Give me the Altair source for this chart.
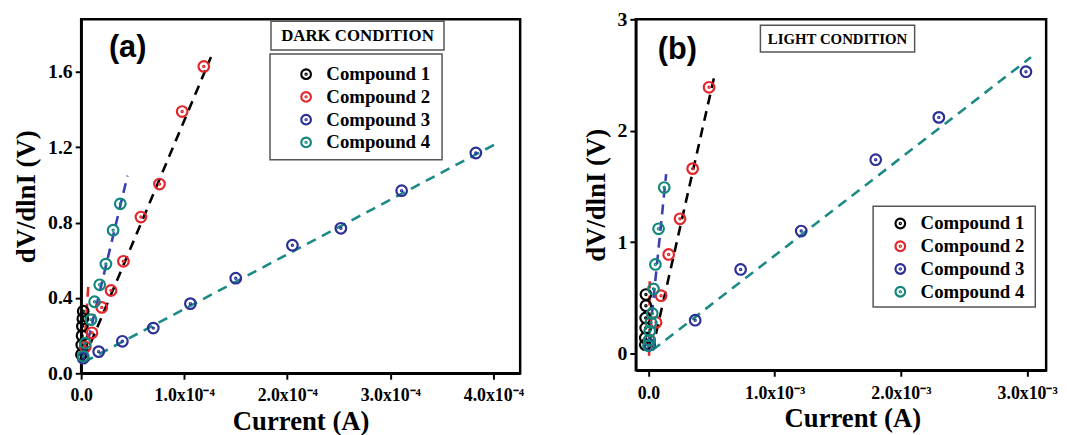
import altair as alt
import pandas as pd

compounds = ["Compound 1", "Compound 2", "Compound 3", "Compound 4"]
point_colors = ["#000000", "#e3262b", "#2b3097", "#13877d"]
line_colors = ["#e3262b", "#000000", "#1b8a86", "#3a3fb2"]

# ---------- Panel (a): dark condition ----------
a_c1_x = [0.3e-6, 0.6e-6, 0.9e-6, 1.2e-6, 1.6e-6, 2.0e-6]
a_c1_y = [0.10, 0.15, 0.20, 0.25, 0.29, 0.33]
a_c2_x = [0.4e-5, 1.05e-5, 2.0e-5, 2.9e-5, 4.1e-5, 5.8e-5, 7.6e-5, 9.8e-5, 11.9e-5]
a_c2_y = [0.14, 0.215, 0.35, 0.44, 0.595, 0.83, 1.005, 1.39, 1.63]
a_c3_x = [0.2e-5, 1.7e-5, 4.0e-5, 7.0e-5, 10.6e-5, 15.0e-5, 20.5e-5, 25.2e-5, 31.1e-5, 38.3e-5]
a_c3_y = [0.08, 0.115, 0.17, 0.24, 0.37, 0.505, 0.68, 0.77, 0.97, 1.17]
a_c4_x = [0.2e-5, 0.4e-5, 0.95e-5, 1.3e-5, 1.8e-5, 2.4e-5, 3.1e-5, 3.8e-5]
a_c4_y = [0.09, 0.16, 0.285, 0.38, 0.47, 0.58, 0.76, 0.90]
# fitted dashed lines (end points)
a_l1_x = [0.2e-5, 0.7e-5]
a_l1_y = [0.05, 0.47]
a_l2_x = [0.3e-5, 12.6e-5]
a_l2_y = [0.08, 1.68]
a_l3_x = [0.3e-5, 40.5e-5]
a_l3_y = [0.06, 1.226]
a_l4_x = [0.3e-5, 4.5e-5]
a_l4_y = [0.09, 1.05]

# ---------- Panel (b): light condition ----------
b_c1_x = [-0.025e-3, -0.025e-3, -0.022e-3, -0.022e-3, -0.02e-3, -0.02e-3]
b_c1_y = [0.08, 0.14, 0.23, 0.32, 0.43, 0.53]
b_c2_x = [0.01e-3, 0.06e-3, 0.10e-3, 0.16e-3, 0.25e-3, 0.35e-3, 0.48e-3]
b_c2_y = [0.12, 0.28, 0.52, 0.89, 1.21, 1.66, 2.39]
b_c3_x = [0.01e-3, 0.37e-3, 0.73e-3, 1.21e-3, 1.80e-3, 2.30e-3, 2.99e-3]
b_c3_y = [0.08, 0.30, 0.755, 1.10, 1.74, 2.12, 2.53]
b_c4_x = [0.0, 0.005e-3, 0.01e-3, 0.02e-3, 0.03e-3, 0.04e-3, 0.055e-3, 0.08e-3, 0.125e-3]
b_c4_y = [0.07, 0.12, 0.20, 0.28, 0.36, 0.58, 0.80, 1.12, 1.49]
b_l1_x = [0.005e-3, 0.01e-3]
b_l1_y = [-0.02, 0.65]
b_l2_x = [0.03e-3, 0.53e-3]
b_l2_y = [0.03, 2.53]
b_l3_x = [0.03e-3, 3.03e-3]
b_l3_y = [0.03, 2.66]
b_l4_x = [0.0, 0.14e-3]
b_l4_y = [0.05, 1.61]

FONT = "Liberation Serif"
CIRCLE_DOT = ("M-1,0A1,1 0 1,1 1,0A1,1 0 1,1 -1,0Z "
              "M-0.12,0A0.12,0.12 0 1,1 0.12,0A0.12,0.12 0 1,1 -0.12,0Z")


def frame(xs, ys):
    rows = []
    for name, xv, yv in zip(compounds, xs, ys):
        for x, y in zip(xv, yv):
            rows.append({"compound": name, "x": x, "y": y})
    return pd.DataFrame(rows)


def line_frame(xs, ys):
    rows = []
    for name, col, xv, yv in zip(compounds, line_colors, xs, ys):
        for x, y in zip(xv, yv):
            rows.append({"compound": name, "lcolor": col, "x": x, "y": y})
    return pd.DataFrame(rows)


def panel(pts, lines, xdom, ydom, w, h, xvals, xexpr, yvals, yfmt,
          legxy, label, labelxy, cond, cond_font, cond_box, cond_txt, leg_box,
          xtitle_x):
    xenc = alt.X("x:Q", scale=alt.Scale(domain=xdom, nice=False, zero=False),
                 axis=alt.Axis(values=xvals, labelExpr=xexpr, title="Current (A)",
                               labelFlush=False, titleX=xtitle_x))
    yenc = alt.Y("y:Q", scale=alt.Scale(domain=ydom, nice=False, zero=False),
                 axis=alt.Axis(values=yvals, format=yfmt, title="dV/dlnI (V)"))
    one = pd.DataFrame({"k": [0]})
    boxes = alt.Chart(one).mark_rect(fill="white", stroke="#555555", strokeWidth=1.5).encode(
        x=alt.value(cond_box[0]), x2=alt.value(cond_box[1]),
        y=alt.value(cond_box[2]), y2=alt.value(cond_box[3]))
    lbox = alt.Chart(one).mark_rect(fill="white", stroke="#555555", strokeWidth=1.5).encode(
        x=alt.value(leg_box[0]), x2=alt.value(leg_box[1]),
        y=alt.value(leg_box[2]), y2=alt.value(leg_box[3]))
    ctext = alt.Chart(one).mark_text(text=cond, font=FONT, fontWeight="bold",
                                     fontSize=cond_font, color="black").encode(
        x=alt.value(cond_txt[0]), y=alt.value(cond_txt[1]))
    ptext = alt.Chart(one).mark_text(text=label, font="Liberation Sans", fontWeight="bold",
                                     fontSize=31, color="black").encode(
        x=alt.value(labelxy[0]), y=alt.value(labelxy[1]))
    ln = alt.Chart(lines).mark_line(strokeDash=[10, 7], strokeWidth=2.6).encode(
        x=xenc, y=yenc, detail="compound:N",
        color=alt.Color("lcolor:N", scale=None))
    pt = alt.Chart(pts).mark_point(shape=CIRCLE_DOT, filled=False, size=115,
                                   strokeWidth=2.2, opacity=1).encode(
        x=xenc, y=yenc,
        color=alt.Color("compound:N",
                        scale=alt.Scale(domain=compounds, range=point_colors),
                        legend=alt.Legend(orient="none", legendX=legxy[0], legendY=legxy[1],
                                          title=None, symbolType=CIRCLE_DOT, symbolSize=95,
                                          symbolStrokeWidth=2.2, labelFont=FONT,
                                          labelFontSize=19, labelFontWeight="bold",
                                          labelColor="black", labelOffset=11,
                                          rowPadding=3, padding=0)))
    return alt.layer(boxes, lbox, ctext, ptext, ln, pt).properties(
        width=w, height=h).resolve_scale(color="independent")


sup4 = "x10\u207b\u2074"
sup3 = "x10\u207b\u00b3"

pa = panel(frame([a_c1_x, a_c2_x, a_c3_x, a_c4_x], [a_c1_y, a_c2_y, a_c3_y, a_c4_y]),
           line_frame([a_l1_x, a_l2_x, a_l3_x, a_l4_x], [a_l1_y, a_l2_y, a_l3_y, a_l4_y]),
           [0, 4.26e-4], [0, 1.88], 444, 358,
           [0, 1e-4, 2e-4, 3e-4, 4e-4],
           "datum.value == 0 ? '0.0' : format(datum.value*1e4, '.1f') + '" + sup4 + "'",
           [0, 0.4, 0.8, 1.2, 1.6], ".1f",
           (218, 46), "(a)", (47, 29), "DARK CONDITION", 17,
           (192, 367, 2, 31), (279.5, 17), (191, 365, 35, 142), 222)

pb = panel(frame([b_c1_x, b_c2_x, b_c3_x, b_c4_x], [b_c1_y, b_c2_y, b_c3_y, b_c4_y]),
           line_frame([b_l1_x, b_l2_x, b_l3_x, b_l4_x], [b_l1_y, b_l2_y, b_l3_y, b_l4_y]),
           [-0.1e-3, 3.15e-3], [-0.15, 3.0], 415, 355,
           [0, 1e-3, 2e-3, 3e-3],
           "datum.value == 0 ? '0.0' : format(datum.value*1e3, '.1f') + '" + sup3 + "'",
           [0, 1, 2, 3], "d",
           (258, 197), "(b)", (42, 31), "LIGHT CONDITION", 15,
           (126, 282, 6, 33), (204, 20), (240, 404, 189, 291), 219)

chart = alt.hconcat(pa, pb, spacing=117, bounds="flush").resolve_scale(
    color="independent").resolve_legend(color="independent").properties(
    padding={"left": 3, "top": -3, "right": 0, "bottom": 0}
).configure_view(stroke="black", strokeWidth=2.5).configure_axis(
    labelFont=FONT, labelFontWeight="bold", labelFontSize=19, labelColor="black",
    titleFont=FONT, titleFontWeight="bold", titleFontSize=27, titleColor="black",
    domainColor="black", domainWidth=2.5, tickColor="black", tickWidth=2, tickSize=6,
    grid=False, labelPadding=3
).configure_axisY(labelFontSize=20, titlePadding=7).configure_axisX(
    labelFontSize=18, labelPadding=8, titlePadding=4)

chart.save("out.html", embed_options={"renderer": "svg", "actions": False})
